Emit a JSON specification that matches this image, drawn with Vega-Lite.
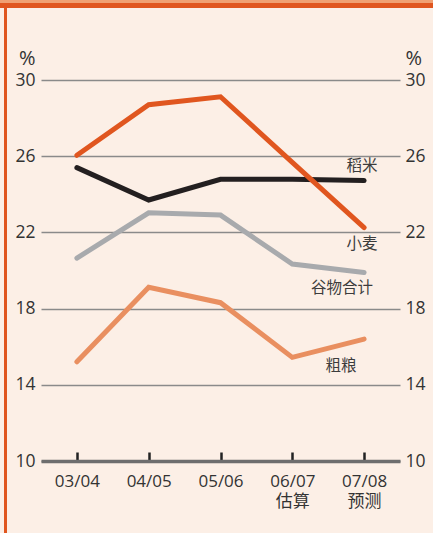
{
  "$schema": "https://vega.github.io/schema/vega-lite/v6.json",
  "background": "#fcefe6",
  "padding": 0,
  "spacing": 0,
  "bounds": "flush",
  "config": {
    "view": {"stroke": null},
    "font": "Open Sans, Noto Sans CJK SC, sans-serif"
  },
  "vconcat": [
    {
      "width": 433, "height": 3,
      "view": {"fill": "#f0a072", "stroke": null},
      "data": {"values": []},
      "mark": "text",
      "encoding": {}
    },
    {
      "width": 433, "height": 5,
      "view": {"fill": "#e0561f", "stroke": null},
      "data": {"values": []},
      "mark": "text",
      "encoding": {}
    },
    {
      "spacing": 0,
      "bounds": "flush",
      "hconcat": [
        {
          "width": 4, "height": 525,
          "data": {"values": []},
          "mark": "text",
          "encoding": {}
        },
        {
          "width": 3, "height": 525,
          "view": {"fill": "#e0561f", "stroke": null},
          "data": {"values": []},
          "mark": "text",
          "encoding": {}
        },
        {
          "width": 34, "height": 525,
          "data": {"values": []},
          "mark": "text",
          "encoding": {}
        },
        {
          "spacing": 0,
          "bounds": "flush",
          "vconcat": [
            {
              "width": 359, "height": 72,
              "data": {"values": []},
              "mark": "text",
              "encoding": {}
            },
            {
              "width": 359,
              "height": 381,
              "data": {
                "values": [
                  {"year": "03/04", "series": "谷物合计", "value": 20.65},
                  {"year": "04/05", "series": "谷物合计", "value": 23.03},
                  {"year": "05/06", "series": "谷物合计", "value": 22.91},
                  {"year": "06/07 估算", "series": "谷物合计", "value": 20.34},
                  {"year": "07/08 预测", "series": "谷物合计", "value": 19.9},
                  {"year": "03/04", "series": "粗粮", "value": 15.21},
                  {"year": "04/05", "series": "粗粮", "value": 19.12},
                  {"year": "05/06", "series": "粗粮", "value": 18.31},
                  {"year": "06/07 估算", "series": "粗粮", "value": 15.44},
                  {"year": "07/08 预测", "series": "粗粮", "value": 16.4},
                  {"year": "03/04", "series": "稻米", "value": 25.4},
                  {"year": "04/05", "series": "稻米", "value": 23.7},
                  {"year": "05/06", "series": "稻米", "value": 24.79},
                  {"year": "06/07 估算", "series": "稻米", "value": 24.79},
                  {"year": "07/08 预测", "series": "稻米", "value": 24.72},
                  {"year": "03/04", "series": "小麦", "value": 26.05},
                  {"year": "04/05", "series": "小麦", "value": 28.7},
                  {"year": "05/06", "series": "小麦", "value": 29.12},
                  {"year": "06/07 估算", "series": "小麦", "value": 25.68},
                  {"year": "07/08 预测", "series": "小麦", "value": 22.25}
                ]
              },
              "layer": [
                {
                  "layer": [
                    {
                      "mark": {"type": "line", "strokeWidth": 5, "strokeCap": "round", "strokeJoin": "miter"},
                      "encoding": {
                        "x": {
                          "field": "year", "type": "ordinal", "sort": null,
                          "scale": {"type": "point", "padding": 0.5},
                          "axis": {
                            "title": null,
                            "labelAngle": 0,
                            "labelExpr": "split(datum.label, ' ')",
                            "labelLineHeight": 20,
                            "labelFontSize": 17,
                            "labelColor": "#333333",
                            "labelPadding": 21,
                            "domainColor": "#6e6e6e",
                            "domainWidth": 3.5,
                            "tickColor": "#222222",
                            "tickWidth": 2.5,
                            "tickSize": -9,
                            "grid": false
                          }
                        },
                        "y": {
                          "field": "value", "type": "quantitative",
                          "scale": {"domain": [10, 30], "nice": false, "zero": false},
                          "axis": {
                            "orient": "left",
                            "values": [10, 14, 18, 22, 26, 30],
                            "grid": true,
                            "gridColor": "#8a8a8a",
                            "gridWidth": 1.4,
                            "ticks": false,
                            "domain": false,
                            "labelPadding": 6,
                            "labelFontSize": 17.5,
                            "labelColor": "#333333",
                            "title": "%",
                            "titleAngle": 0,
                            "titleAlign": "right",
                            "titleBaseline": "alphabetic",
                            "titleX": -6,
                            "titleY": -16,
                            "titleFontSize": 20,
                            "titleFontWeight": "normal",
                            "titleColor": "#333333"
                          }
                        },
                        "color": {
                          "field": "series", "type": "nominal",
                          "scale": {
                            "domain": ["谷物合计", "粗粮", "稻米", "小麦"],
                            "range": ["#a8aaad", "#e98f60", "#231f20", "#e0561f"]
                          },
                          "legend": null
                        },
                        "order": {"field": "series"}
                      }
                    },
                    {
                      "transform": [{"filter": "datum.year == '07/08 预测' && datum.series == '稻米'"}],
                      "mark": {"type": "text", "dx": -2, "dy": -15, "fontSize": 15.5, "color": "#3c3c3c"},
                      "encoding": {
                        "x": {"field": "year", "type": "ordinal", "sort": null},
                        "y": {"field": "value", "type": "quantitative"},
                        "text": {"field": "series"}
                      }
                    },
                    {
                      "transform": [{"filter": "datum.year == '07/08 预测' && datum.series == '小麦'"}],
                      "mark": {"type": "text", "dx": -2, "dy": 16, "fontSize": 15.5, "color": "#3c3c3c"},
                      "encoding": {
                        "x": {"field": "year", "type": "ordinal", "sort": null},
                        "y": {"field": "value", "type": "quantitative"},
                        "text": {"field": "series"}
                      }
                    },
                    {
                      "transform": [{"filter": "datum.year == '07/08 预测' && datum.series == '谷物合计'"}],
                      "mark": {"type": "text", "dx": -22, "dy": 16, "fontSize": 15.5, "color": "#3c3c3c"},
                      "encoding": {
                        "x": {"field": "year", "type": "ordinal", "sort": null},
                        "y": {"field": "value", "type": "quantitative"},
                        "text": {"field": "series"}
                      }
                    },
                    {
                      "transform": [{"filter": "datum.year == '07/08 预测' && datum.series == '粗粮'"}],
                      "mark": {"type": "text", "dx": -23, "dy": 27, "fontSize": 15.5, "color": "#3c3c3c"},
                      "encoding": {
                        "x": {"field": "year", "type": "ordinal", "sort": null},
                        "y": {"field": "value", "type": "quantitative"},
                        "text": {"field": "series"}
                      }
                    }
                  ]
                },
                {
                  "mark": {"type": "rule", "opacity": 0},
                  "encoding": {
                    "y": {
                      "field": "value", "type": "quantitative",
                      "scale": {"domain": [10, 30], "nice": false, "zero": false},
                      "axis": {
                        "orient": "right",
                        "values": [10, 14, 18, 22, 26, 30],
                        "grid": false,
                        "ticks": false,
                        "domain": false,
                        "labelPadding": 5,
                        "labelFontSize": 17.5,
                        "labelColor": "#333333",
                        "title": "%",
                        "titleAngle": 0,
                        "titleAlign": "left",
                        "titleBaseline": "alphabetic",
                        "titleX": 5,
                        "titleY": -16,
                        "titleFontSize": 20,
                        "titleFontWeight": "normal",
                        "titleColor": "#333333"
                      }
                    }
                  }
                }
              ],
              "resolve": {"scale": {"y": "independent"}}
            }
          ]
        }
      ]
    }
  ]
}
